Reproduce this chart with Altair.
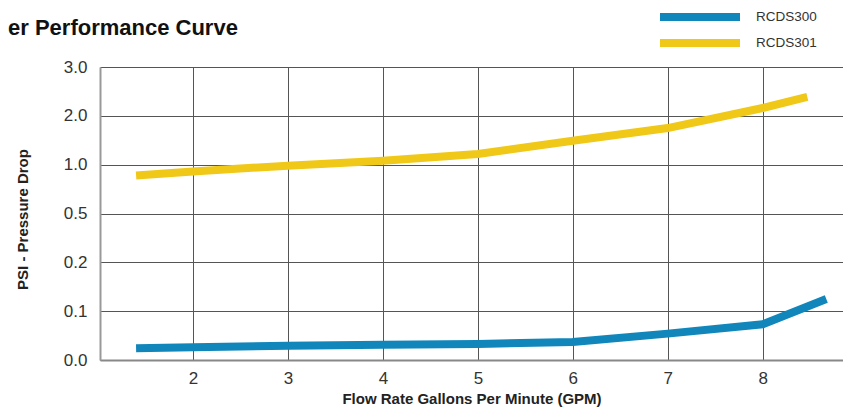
import altair as alt
import pandas as pd

# Data
series_names = ["RCDS300", "RCDS301"]
gpm_rcds300 = [1.4, 2, 3, 4, 5, 6, 7, 8, 8.67]
psi_rcds300 = [0.024, 0.026, 0.029, 0.031, 0.033, 0.037, 0.054, 0.073, 0.125]
gpm_rcds301 = [1.4, 2, 3, 4, 5, 6, 7, 8, 8.47]
psi_rcds301 = [0.89, 0.93, 0.99, 1.08, 1.22, 1.49, 1.75, 2.16, 2.39]
y_ticks = [0.0, 0.1, 0.2, 0.5, 1.0, 2.0, 3.0]
x_ticks = [2, 3, 4, 5, 6, 7, 8]
colors = ["#1186bb", "#f0c818"]

rows = []
for x, y in zip(gpm_rcds300, psi_rcds300):
    rows.append({"gpm": x, "psi": y, "series": series_names[0]})
for x, y in zip(gpm_rcds301, psi_rcds301):
    rows.append({"gpm": x, "psi": y, "series": series_names[1]})
df = pd.DataFrame(rows)

W, H = 743, 293
FONT = "Liberation Sans"
y_range = [H * (1 - i / (len(y_ticks) - 1)) for i in range(len(y_ticks))]

chart = (
    alt.Chart(df)
    .mark_line(strokeWidth=8, strokeCap="butt")
    .encode(
        x=alt.X(
            "gpm:Q",
            scale=alt.Scale(domain=[1.02, 8.846], nice=False, zero=False),
            axis=alt.Axis(
                values=x_ticks, format="d", title="Flow Rate Gallons Per Minute (GPM)",
                ticks=False, labelPadding=10,
                titleY=43, titleBaseline="alphabetic",
                domainColor="#888", domainWidth=2,
                gridColor="#555", gridWidth=1,
                labelFontSize=17, labelColor="#333", labelFont=FONT,
                titleFontSize=15, titleFont=FONT, titleFontWeight="bold", titleColor="#222",
            ),
        ),
        y=alt.Y(
            "psi:Q",
            scale=alt.Scale(domain=y_ticks, range=y_range, zero=False, nice=False),
            axis=alt.Axis(
                values=y_ticks, format=".1f", title="PSI - Pressure Drop",
                ticks=False, labelPadding=13,
                domainColor="#999", domainWidth=2,
                gridColor="#555", gridWidth=1,
                labelFontSize=17, labelColor="#333", labelFont=FONT,
                titleFontSize=15, titleFont=FONT, titleFontWeight="bold", titleColor="#222",
                titleX=-78, titleY=152, titleBaseline="middle",
            ),
        ),
        color=alt.Color(
            "series:N",
            scale=alt.Scale(domain=series_names, range=colors),
            legend=alt.Legend(
                title=None, orient="none", legendX=556, legendY=-63,
                symbolType="stroke", symbolSize=6400, symbolStrokeWidth=8,
                symbolOpacity=1, clipHeight=26, rowPadding=0, padding=0,
                labelOffset=12, labelFontSize=13.5, labelColor="#333", labelFont=FONT,
            ),
        ),
    )
    .properties(
        width=W,
        height=H,
        autosize=alt.AutoSizeParams(type="none"),
        padding={"left": 92, "top": 59, "right": 0, "bottom": 47},
        title=alt.TitleParams(
            text="er Performance Curve", anchor="start", frame="group",
            dx=-92, dy=53, offset=0, fontSize=22, font=FONT, fontWeight="bold",
            color="#111", baseline="alphabetic",
        ),
    )
    .configure_view(strokeWidth=0)
    .configure(background="white")
)

chart.save("out.html", embed_options={"renderer": "svg", "actions": False})
